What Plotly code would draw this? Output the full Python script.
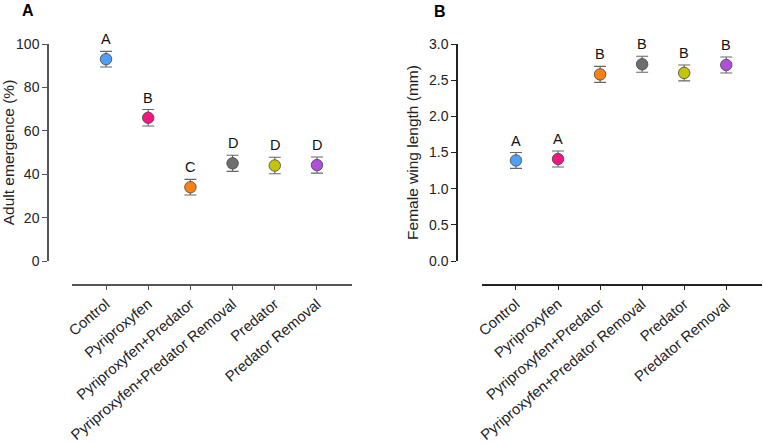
import plotly.graph_objects as go

categories = ["Control", "Pyriproxyfen", "Pyriproxyfen+Predator",
              "Pyriproxyfen+Predator Removal", "Predator", "Predator Removal"]
colors = ["#4FA0F5", "#F2177E", "#FF8010", "#6E6E6E", "#C4C40A", "#B050DA"]

emergence_mean = [93.0, 66.0, 34.0, 45.0, 44.0, 44.2]
emergence_err = [3.6, 3.8, 3.6, 3.7, 3.8, 3.7]
emergence_letters = ["A", "B", "C", "D", "D", "D"]

wing_mean = [1.39, 1.41, 2.58, 2.72, 2.60, 2.71]
wing_err = [0.11, 0.11, 0.11, 0.11, 0.11, 0.11]
wing_letters = ["A", "A", "B", "B", "B", "B"]

FONT = "Liberation Sans, Arial, sans-serif"
W, H = 763, 444
ML, MR, MT, MB = 48, 1, 44, 159
pw = W - ML - MR
ph = H - MT - MB

def px_x(p):
    return (p - ML) / pw

ydom0 = (MT + ph - 261) / ph

fig = go.Figure()

for mean, err, xa, ya in [(emergence_mean, emergence_err, "x", "y"),
                          (wing_mean, wing_err, "x2", "y2")]:
    fig.add_trace(go.Scatter(
        x=categories, y=mean, xaxis=xa, yaxis=ya, mode="markers",
        marker=dict(size=11.5, color=colors, line=dict(color="#444444", width=0.8)),
        error_y=dict(type="data", array=err, visible=True, color="#666666",
                     thickness=1.1, width=6),
        showlegend=False, hoverinfo="skip"))

annotations = []
for cats, mean, err, letters, xa, ya in [
        (categories, emergence_mean, emergence_err, emergence_letters, "x", "y"),
        (categories, wing_mean, wing_err, wing_letters, "x2", "y2")]:
    for c, m, e, l in zip(cats, mean, err, letters):
        annotations.append(dict(x=c, y=m + e, xref=xa, yref=ya, text=l,
                                showarrow=False, yanchor="bottom", yshift=2,
                                font=dict(size=14.5, color="#111111", family=FONT)))

annotations.append(dict(x=(28 - ML) / pw, y=(H - MB - 10) / ph, xref="paper", yref="paper",
                        text="<b>A</b>", showarrow=False, xanchor="center", yanchor="middle",
                        font=dict(size=16, color="#000000", family=FONT)))
annotations.append(dict(x=(440 - ML) / pw, y=(H - MB - 11) / ph, xref="paper", yref="paper",
                        text="<b>B</b>", showarrow=False, xanchor="center", yanchor="middle",
                        font=dict(size=16, color="#000000", family=FONT)))

common_x = dict(type="category", showgrid=False, zeroline=False, showline=True,
                linecolor="#555555", linewidth=1.5, ticks="outside", ticklen=4,
                tickcolor="#555555", tickwidth=1.2, tickangle=-40,
                tickfont=dict(size=14.8, color="#222222", family=FONT),
                anchor="free", position=0, automargin=False)
common_y = dict(showgrid=False, zeroline=False, showline=True, linewidth=1.5,
                ticks="outside", ticklen=5, tickwidth=1.2,
                tickfont=dict(size=14, color="#222222", family=FONT),
                anchor="free", domain=[ydom0, 1], automargin=False,
                title_font=dict(size=15.5, color="#222222", family=FONT))

fig.update_layout(
    width=W, height=H, margin=dict(l=ML, r=MR, t=MT, b=MB),
    paper_bgcolor="white", plot_bgcolor="white",
    xaxis=dict(common_x, domain=[px_x(72), px_x(352)], range=[-0.806, 5.83]),
    xaxis2=dict(common_x, domain=[px_x(481.7), px_x(762)], range=[-0.815, 5.85],
                linecolor="#222222", tickcolor="#222222"),
    yaxis=dict(common_y, range=[0, 100], tickvals=[0, 20, 40, 60, 80, 100],
               position=0, linecolor="#555555", tickcolor="#555555",
               title=dict(text="Adult emergence (%)", standoff=8)),
    yaxis2=dict(common_y, range=[0, 3.0], tickvals=[0, 0.5, 1.0, 1.5, 2.0, 2.5, 3.0],
                tickformat=".1f", position=px_x(457), linecolor="#222222",
                tickcolor="#222222",
                title=dict(text="Female wing length (mm)", standoff=6)),
    annotations=annotations,
)

fig.write_html("out.html", config={"displayModeBar": False},
               post_script="document.body.style.margin='0';")
